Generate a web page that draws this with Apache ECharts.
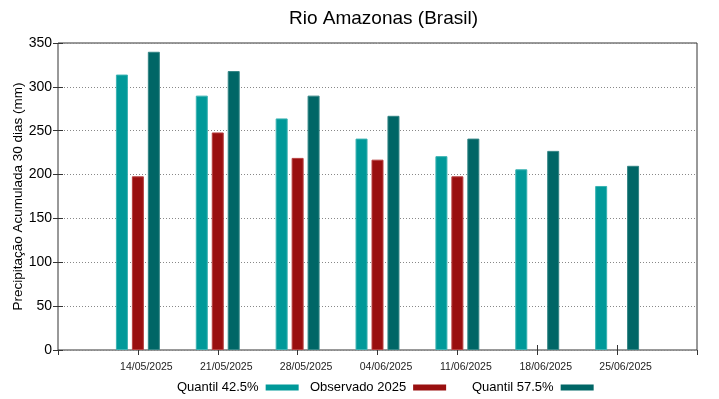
<!DOCTYPE html>
<html>
<head>
<meta charset="utf-8">
<script src="https://cdn.jsdelivr.net/npm/echarts@6/dist/echarts.min.js"></script>
<style>
  html, body { margin: 0; padding: 0; background: #fff; }
  #chart { width: 719px; height: 399px; }
</style>
</head>
<body>
<div id="chart"></div>
<script>
// datas das semanas
var dates = ["14/05/2025", "21/05/2025", "28/05/2025", "04/06/2025", "11/06/2025", "18/06/2025", "25/06/2025"];
var q425 = [314, 290, 264, 241, 221, 206, 187];
var obs2025 = [198, 248, 219, 217, 198, null, null];
var q575 = [340, 318, 290, 267, 241, 227, 210];

var font = "Liberation Sans, Arial, sans-serif";

function toPairs(arr) {
  var out = [];
  arr.forEach(function (v, i) {
    out.push([i + 1, v]);
  });
  return out;
}

function barSeries(name, arr, color, border) {
  return {
    name: name,
    type: "bar",
    data: toPairs(arr),
    barWidth: 12,
    barGap: "33%",
    itemStyle: { color: color, borderColor: border, borderWidth: 1 },
  };
}

function legendItem(name, left) {
  return {
    data: [name],
    top: 381,
    left: left,
    align: "right",
    itemWidth: 33,
    itemHeight: 6,
    itemGap: 0,
    padding: 0,
    icon: "rect",
    itemStyle: { borderWidth: 0 },
    textStyle: { fontFamily: font, fontSize: 13, color: "#000", padding: [0, 2, 0, 0] },
  };
}

var myChart = echarts.init(document.getElementById("chart"));
var option = {
  animation: false,
  title: {
    text: "Rio Amazonas (Brasil)",
    left: 284,
    top: 4,
    textStyle: { fontFamily: font, fontSize: 19, fontWeight: "normal", color: "#000" },
  },
  legend: [
    legendItem("Quantil 42.5%", 177),
    legendItem("Observado 2025", 310),
    legendItem("Quantil 57.5%", 472),
  ],
  grid: {
    left: 58,
    right: 22,
    top: 43,
    bottom: 49,
    outerBoundsMode: "none",
    containLabel: false,
    show: true,
    borderColor: "#333",
    borderWidth: 1,
  },
  xAxis: [
    {
      type: "value",
      min: 0,
      max: 8,
      interval: 1,
      position: "bottom",
      axisLine: { show: false },
      axisTick: { show: true, inside: true, length: 5, lineStyle: { color: "#333" } },
      splitLine: { show: false },
      axisLabel: {
        fontFamily: font,
        fontSize: 10.5,
        color: "#222",
        margin: 12,
        padding: [0, 0, 0, 17],
        showMinLabel: false,
        showMaxLabel: false,
        formatter: function (v) {
          return dates[v - 1] || "";
        },
      },
    },
    {
      type: "value",
      min: 0,
      max: 8,
      interval: 1,
      position: "top",
      axisLine: { show: false },
      axisTick: { show: true, inside: true, length: 5, lineStyle: { color: "#333" } },
      splitLine: { show: false },
      axisLabel: { show: false },
    },
  ],
  yAxis: [
    {
      type: "value",
      min: 0,
      max: 350,
      interval: 50,
      name: "Precipitação Acumulada 30 dias (mm)",
      nameLocation: "middle",
      nameGap: 33,
      nameMoveOverlap: false,
      nameRotate: 90,
      nameTextStyle: { fontFamily: font, fontSize: 13.5, color: "#000" },
      axisLine: { show: false },
      axisTick: { show: true, inside: true, length: 5, lineStyle: { color: "#333" } },
      axisLabel: { fontFamily: font, fontSize: 14, color: "#000", margin: 6 },
      splitLine: { show: true, lineStyle: { color: "#888", type: [1, 2], width: 1 } },
    },
    {
      type: "value",
      min: 0,
      max: 350,
      interval: 50,
      position: "right",
      axisLine: { show: false },
      axisTick: { show: true, inside: true, length: 5, lineStyle: { color: "#333" } },
      axisLabel: { show: false },
      splitLine: { show: false },
    },
  ],
  series: [
    barSeries("Quantil 42.5%", q425, "#009999", "#3ab3b3"),
    barSeries("Observado 2025", obs2025, "#990f0f", "#b84040"),
    barSeries("Quantil 57.5%", q575, "#006666", "#338585"),
  ],
};
myChart.setOption(option);
</script>
</body>
</html>
